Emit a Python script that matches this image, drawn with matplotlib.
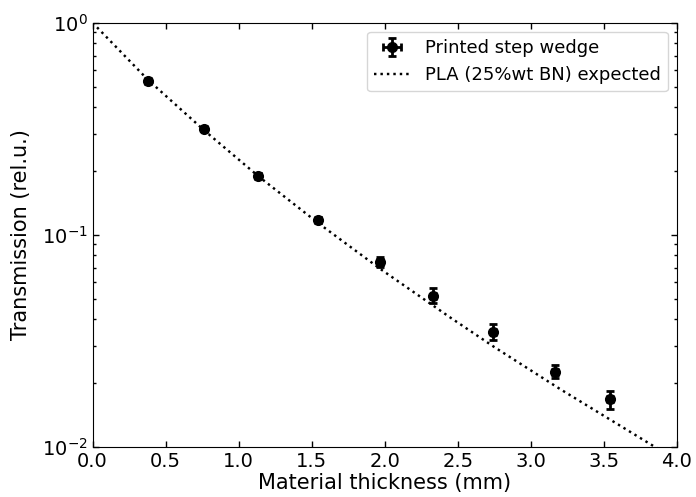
import matplotlib
matplotlib.use("Agg")
import matplotlib.pyplot as plt
from matplotlib.ticker import LogLocator, NullFormatter

# Measured step wedge data
thickness = [0.382, 0.766, 1.135, 1.546, 1.968, 2.333, 2.744, 3.166, 3.542]
transmission = [0.532, 0.316, 0.190, 0.1173, 0.0746, 0.0516, 0.0349, 0.0226, 0.0167]
trans_err = [0.010, 0.007, 0.005, 0.004, 0.004, 0.0042, 0.0031, 0.0016, 0.0017]
thick_err = [0.02, 0.02, 0.02, 0.02, 0.02, 0.02, 0.02, 0.02, 0.02]

# Expected curve
exp_thickness = [0.0, 0.38, 0.77, 1.14, 1.55, 1.97, 2.45, 2.75, 3.20, 3.83, 3.90]
exp_transmission = [1.0, 0.537, 0.308, 0.1875, 0.1127, 0.0689, 0.0406, 0.0295, 0.0187, 0.01016, 0.0095]

fig = plt.figure(figsize=(6.96, 4.97), dpi=100)
ax = fig.add_axes([0.133, 0.1012, 0.8397, 0.8531])

eb = ax.errorbar(thickness, transmission, yerr=trans_err, xerr=thick_err,
                 fmt='o', color='black', markersize=7, elinewidth=2,
                 capsize=3, capthick=2, label='Printed step wedge')
ln, = ax.plot(exp_thickness, exp_transmission, linestyle=':', color='black',
              linewidth=1.75, label='PLA (25%wt BN) expected')

ax.set_yscale('log')
ax.set_xlim(0, 4)
ax.set_ylim(1e-2, 1e0)
ax.set_xticks([0.0, 0.5, 1.0, 1.5, 2.0, 2.5, 3.0, 3.5, 4.0])
ax.set_xticklabels(['0.0', '0.5', '1.0', '1.5', '2.0', '2.5', '3.0', '3.5', '4.0'])
ax.yaxis.set_minor_locator(LogLocator(base=10, subs=range(2, 10)))
ax.yaxis.set_minor_formatter(NullFormatter())

ax.tick_params(which='both', direction='in', top=True, right=True)
ax.tick_params(which='major', length=4, width=1, labelsize=14)
ax.tick_params(which='minor', length=2, width=1)

ax.set_xlabel('Material thickness (mm)', fontsize=15, labelpad=2)
ax.set_ylabel('Transmission (rel.u.)', fontsize=15, labelpad=8)

ax.legend(handles=[eb, ln], loc='upper right', fontsize=13)

fig.savefig('out.png', dpi=100)
